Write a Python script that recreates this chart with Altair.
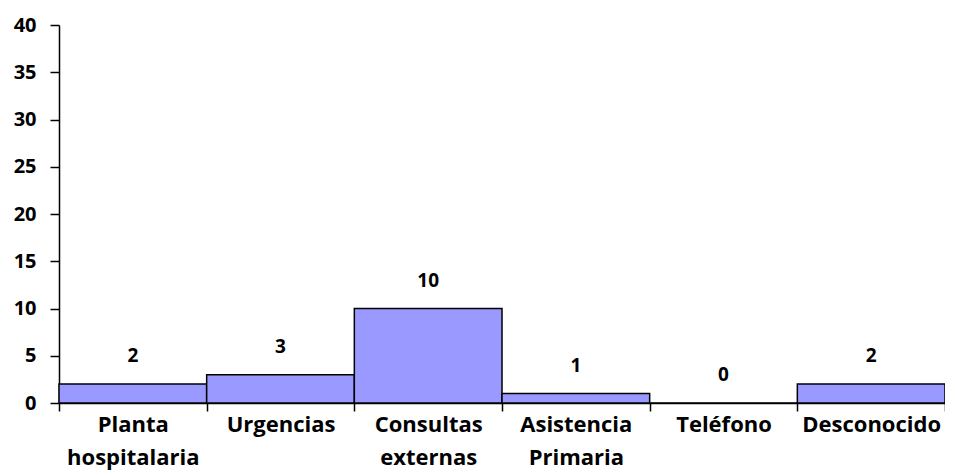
import altair as alt
import pandas as pd

categories = ["Planta hospitalaria", "Urgencias", "Consultas externas",
              "Asistencia Primaria", "Teléfono", "Desconocido"]
values = [2, 3, 10, 1, 0, 2]
y_ticks = [0, 5, 10, 15, 20, 25, 30, 35, 40]

FONT = "Open Sans"
df = pd.DataFrame({"cat": categories, "val": values, "idx": list(range(len(categories)))})

label_arr = "[" + ",".join(
    "[" + ",".join("'" + w + "'" for w in c.split(" ")) + "]" for c in categories
) + "]"
label_expr = f"datum.value < {len(categories)} ? {label_arr}[datum.value] : ''"

W, H = 886, 378
n = len(categories)

xscale = alt.Scale(domain=[0, n], nice=False, zero=False)
yscale = alt.Scale(domain=[0, 40], nice=False)

base = alt.Chart(df).transform_calculate(
    x0="datum.idx", x1="datum.idx + 1", xm="datum.idx + 0.5"
)

bars = base.mark_rect(fill="#9999FF", stroke="black", strokeWidth=1.5).encode(
    x=alt.X("x0:Q", scale=xscale, title=None,
            axis=alt.Axis(values=list(range(n + 1)), labelExpr=label_expr,
                          labelOffset=W / n / 2, labelFlush=False, labelOverlap=False,
                          labelBound=False, labelFont=FONT, labelFontSize=22,
                          labelFontWeight="bold", labelColor="black",
                          labelLineHeight=33, labelBaseline="top", labelPadding=3,
                          tickSize=8, tickColor="black", tickWidth=1.5,
                          domainColor="black", domainWidth=1.5, grid=False)),
    x2="x1:Q",
    y=alt.Y("val:Q", scale=yscale, title=None,
            axis=alt.Axis(values=y_ticks, labelFont=FONT, labelFontSize=20,
                          labelFontWeight="bold", labelColor="black",
                          labelPadding=14, tickSize=9, tickColor="black",
                          tickWidth=1.5, domainColor="black", domainWidth=1.5,
                          grid=False)),
    y2=alt.datum(0),
)

text = base.mark_text(font=FONT, fontSize=19, fontWeight="bold", color="black",
                      dy=-28, baseline="middle").encode(
    x=alt.X("xm:Q", scale=xscale),
    y=alt.Y("val:Q", scale=yscale),
    text="val:Q",
)

chart = alt.layer(bars, text).properties(
    width=W, height=H,
    autosize=alt.AutoSizeParams(type="none"),
    padding={"left": 51, "top": 17, "right": 0, "bottom": 72},
).configure_view(stroke=None)

chart.save("out.html", embed_options={"renderer": "svg", "actions": False})
